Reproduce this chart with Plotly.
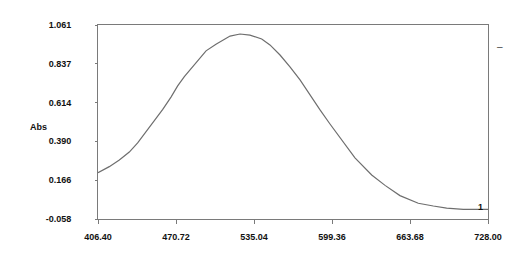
import plotly.graph_objects as go

wavelength = [406.4, 415.7, 424.0, 432.2, 439.1, 446.0, 452.8, 459.8, 466.6, 472.1,
              477.6, 484.5, 489.9, 495.5, 503.7, 510.6, 515.3, 523.5, 531.7, 541.4,
              548.2, 556.5, 564.7, 573.0, 581.2, 589.5, 597.7, 606.0, 612.8, 618.3,
              632.1, 643.1, 655.4, 670.5, 682.9, 693.9, 707.6, 718.7, 726.9, 728.0]
absorbance = [0.209, 0.244, 0.282, 0.328, 0.381, 0.444, 0.510, 0.574, 0.645, 0.710,
              0.763, 0.820, 0.869, 0.912, 0.950, 0.980, 0.997, 1.009, 1.003, 0.980,
              0.946, 0.888, 0.820, 0.744, 0.657, 0.571, 0.490, 0.410, 0.350, 0.295,
              0.196, 0.136, 0.077, 0.033, 0.017, 0.005, -0.002, -0.005, -0.003, -0.002]

x_ticks = [406.40, 470.72, 535.04, 599.36, 663.68, 728.00]
x_tick_labels = ["406.40", "470.72", "535.04", "599.36", "663.68", "728.00"]
y_ticks = [-0.058, 0.166, 0.390, 0.614, 0.837, 1.061]
y_tick_labels = ["-0.058", "0.166", "0.390", "0.614", "0.837", "1.061"]

axis_color = "#7a7a7a"
font_family = "Liberation Sans, Arial, sans-serif"

fig = go.Figure()
fig.add_trace(go.Scatter(x=wavelength, y=absorbance, mode="lines",
                         line=dict(color="#6e6e6e", width=1.2),
                         showlegend=False, hoverinfo="skip"))

fig.update_layout(
    width=522, height=264,
    margin=dict(l=98, r=34, t=25, b=45),
    paper_bgcolor="white", plot_bgcolor="white",
    font=dict(family=font_family, size=9, color="#111"),
    xaxis=dict(range=[406.4, 728.0], tickvals=x_ticks, ticktext=x_tick_labels,
               showgrid=False, zeroline=False, showline=True, linecolor=axis_color,
               linewidth=1, mirror=True, ticks="outside", ticklen=4, tickwidth=1,
               tickcolor=axis_color, ticklabelstandoff=5,
               tickfont=dict(family=font_family, size=9, color="#111", weight="bold")),
    yaxis=dict(range=[-0.058, 1.061], tickvals=y_ticks, ticktext=y_tick_labels,
               showgrid=False, zeroline=False, showline=True, linecolor=axis_color,
               linewidth=1, mirror=True, ticks="outside", ticklen=2, tickwidth=1,
               tickcolor=axis_color, ticklabelstandoff=22,
               tickfont=dict(family=font_family, size=9, color="#111", weight="bold")),
)

plot_w, plot_h = 390, 194


def px_to_paper(px, py):
    return (px - 98) / plot_w, 1 - (py - 25) / plot_h


ax, ay = px_to_paper(28, 127)
fig.add_annotation(x=ax, y=ay, xref="paper", yref="paper", text="<b>Abs</b>",
                   showarrow=False, font=dict(size=9, color="#111"))
ax, ay = px_to_paper(485, 214)
fig.add_annotation(x=ax, y=ay, xref="paper", yref="paper", text="<b>1</b>",
                   showarrow=False, font=dict(size=9, color="#111"))
ax, ay = px_to_paper(505, 39)
fig.add_annotation(x=ax, y=ay, xref="paper", yref="paper", text="–",
                   showarrow=False, font=dict(size=10, color="#444"))

fig.write_html("out.html")
